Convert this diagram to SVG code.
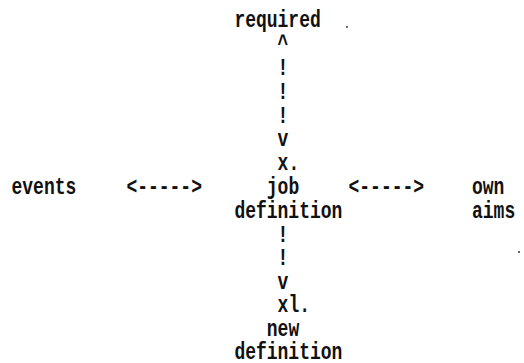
<svg xmlns="http://www.w3.org/2000/svg" width="524" height="363" viewBox="0 0 524 363">
  <style>
    text { font-family: "Liberation Mono", "DejaVu Sans Mono", monospace; font-size: 18px; font-weight: bold; fill: #111; }
    .speck { fill: #444; }
  </style>
  <rect width="524" height="363" fill="#ffffff"/>

  <!-- Connectors: typewriter-style arrows built from characters -->
  <g id="connectors">
    <text transform="translate(277.6,51.2) scale(1,1.3)">^</text>
    <text transform="translate(277.6,75) scale(1,1.3)">!</text>
    <text transform="translate(277.6,98.8) scale(1,1.3)">!</text>
    <text transform="translate(277.6,122.6) scale(1,1.3)">!</text>
    <text transform="translate(277.6,146.4) scale(1,1.3)">v</text>

    <text transform="translate(277.6,241.6) scale(1,1.3)">!</text>
    <text transform="translate(277.6,265.4) scale(1,1.3)">!</text>
    <text transform="translate(277.6,289.2) scale(1,1.3)">v</text>

    <text transform="translate(126.4,194) scale(1,1.3)">&lt;-----&gt;</text>
    <text transform="translate(348.5,194) scale(1,1.3)">&lt;-----&gt;</text>
  </g>

  <g id="node-required">
    <text transform="translate(234.4,27.4) scale(1,1.3)">required</text>
  </g>

  <g id="node-job-definition">
    <text transform="translate(277.6,170.2) scale(1,1.3)">x.</text>
    <text transform="translate(266.8,194) scale(1,1.3)">job</text>
    <text transform="translate(234.4,217.8) scale(1,1.3)">definition</text>
  </g>

  <g id="node-new-definition">
    <text transform="translate(277.6,312) scale(1,1.3)">xl.</text>
    <text transform="translate(266.8,335.5) scale(1,1.3)">new</text>
    <text transform="translate(234.4,359.3) scale(1,1.3)">definition</text>
  </g>

  <g id="node-events">
    <text transform="translate(11.5,194) scale(1,1.3)">events</text>
  </g>

  <g id="node-own-aims">
    <text transform="translate(472,194) scale(1,1.3)">own</text>
    <text transform="translate(472,217.8) scale(1,1.3)">aims</text>
  </g>

  <!-- stray marks on the sheet -->
  <circle class="speck" cx="347" cy="27" r="1"/>
  <circle class="speck" cx="519" cy="252" r="1.1"/>
</svg>
